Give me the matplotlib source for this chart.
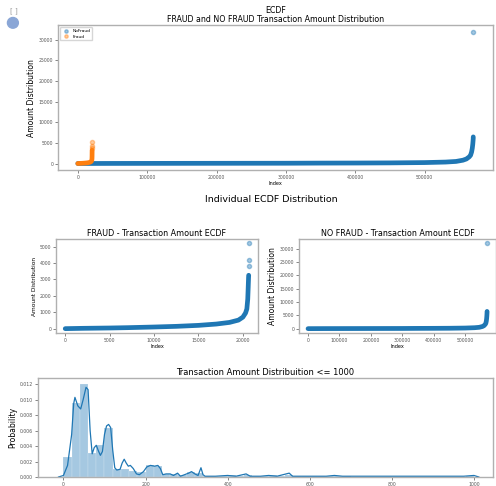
import matplotlib.pyplot as plt
from matplotlib.patches import Circle
import numpy as np

# sorted amounts (ECDF style) - anchor points
nofraud_idx = [0, 50000, 100000, 200000, 300000, 350000, 400000, 450000, 500000,
               530000, 545000, 555000, 560000, 564000, 566000, 567500, 568500,
               569200, 569600, 569850, 569875]
nofraud_amt = [0.25, 20, 30, 50, 68, 100, 117, 150, 226,
               350, 500, 800, 1100, 1600, 2000, 2800, 3700,
               4700, 5500, 6100, 6450]
nofraud_out_idx = [569876]
nofraud_out_amt = [31937]

fraud_idx = [0, 2000, 5000, 7000, 10000, 12500, 15000, 17000, 18500, 19500,
             20000, 20300, 20450, 20550, 20600, 20640, 20655]
fraud_amt = [0.3, 20, 40, 60, 100, 140, 200, 280, 380, 520,
             700, 950, 1200, 1800, 2500, 3100, 3250]
fraud_out_idx = [20660, 20661, 20662]
fraud_out_amt = [3800, 4200, 5191]

# histogram (density) of amounts <= 1000
bin_edges = [0, 20, 40, 60, 80, 100, 120, 140, 160, 180, 200, 220, 240, 260, 280,
             300, 320, 340, 360, 380, 400, 420, 440, 460, 480, 500, 520, 540, 560,
             580, 600, 620, 640, 660, 680, 700, 720, 740, 760, 780, 800, 820, 840,
             860, 880, 900, 920, 940, 960, 980, 1000]
bin_dens = [0.0026, 0.0096, 0.0120, 0.0031, 0.0042, 0.0063, 0.0010, 0.0010,
            0.0008, 0.0006, 0.0015, 0.0014, 0.0004, 0.0004, 0.0003, 0.0006,
            0.0005, 0.0001, 0.0001, 0.0001, 0.0002, 0.0001, 0.0002, 0.0001,
            0.0001, 0.0002, 0.0001, 0.0003, 0.0001, 0.0001, 0.0001, 0.0001,
            0.0001, 0.0001, 0.0001, 0.00005, 0.00005, 0.00005, 0.00005, 0.00005,
            0.00005, 0.00005, 0.00005, 0.00005, 0.00005, 0.00005, 0.00005,
            0.00005, 0.00005, 0.0001]

kde_x = [-12, 0, 10, 20, 25, 28, 35, 42, 48, 55, 60, 65, 70, 75, 80, 85, 90, 95,
         100, 105, 110, 115, 120, 125, 130, 138, 143, 148, 153, 158, 163, 170,
         178, 185, 195, 203, 212, 222, 230, 236, 242, 250, 260, 268, 278, 285,
         295, 305, 312, 320, 328, 335, 340, 345, 370, 400, 420, 445, 455, 480,
         500, 520, 550, 558, 600, 640, 660, 680, 740, 800, 840, 880, 940, 975,
         1000, 1012]
kde_y = [0, 0.0002, 0.0015, 0.0055, 0.0095, 0.0103, 0.0092, 0.0088, 0.0100,
         0.0116, 0.0113, 0.0060, 0.0030, 0.0038, 0.0041, 0.0034, 0.0028, 0.0033,
         0.0055, 0.0066, 0.0068, 0.0064, 0.0035, 0.0012, 0.0009, 0.0010, 0.0018,
         0.0023, 0.0018, 0.0014, 0.0015, 0.0011, 0.0004, 0.0003, 0.0007, 0.0013,
         0.0015, 0.0014, 0.0015, 0.0011, 0.0003, 0.0004, 0.0004, 0.0002, 0.0005,
         0.0001, 0.0003, 0.0005, 0.0007, 0.0004, 0.0002, 0.0012, 0.0003, 0.0001,
         0.0001, 0.0002, 0.0001, 0.0004, 0.0001, 0.0001, 0.0002, 0.0001, 0.0005,
         0.0001, 0.0001, 0.0001, 0.0002, 0.0001, 0.0001, 0.0001, 0.0001, 0.0001,
         0.0001, 0.0001, 0.0002, 0]

BLUE = '#1f77b4'
ORANGE = '#ff7f0e'
TICK = 3.3
SPINE = '#b0b0b0'


def style(ax):
    for s in ax.spines.values():
        s.set_color(SPINE)
        s.set_linewidth(1.0)
    ax.tick_params(labelsize=TICK, length=2, width=0.5, colors='#555555', pad=1.5)


def ecdf(ax, idx, amt, out_idx, out_amt, color, label=None):
    # the dense run of sorted points shows up as a thick band
    ax.plot(idx, amt, color=color, lw=3.4, solid_capstyle='round', zorder=2)
    ax.scatter(out_idx, out_amt, s=9, color=color, alpha=0.4, zorder=2, label=label)


fig = plt.figure(figsize=(4.96, 4.86), dpi=100)

# notebook cell decorations
fig.text(0.02, 0.978, '[ ]', fontsize=5, color='#999999', va='center')
fig.add_artist(Circle((0.026, 0.953), 0.011, transform=fig.transFigure,
                      color='#8aa6d6'))

# top: both classes together
ax1 = fig.add_axes([0.117, 0.650, 0.877, 0.2984])
ecdf(ax1, nofraud_idx, nofraud_amt, nofraud_out_idx, nofraud_out_amt, BLUE, 'NoFraud')
ecdf(ax1, fraud_idx, fraud_amt, fraud_out_idx, fraud_out_amt, ORANGE, 'Fraud')
ax1.set_title('ECDF\nFRAUD and NO FRAUD Transaction Amount Distribution',
              fontsize=5.7, pad=2, linespacing=1.0)
ax1.set_ylabel('Amount Distribution', fontsize=5.5, labelpad=2)
ax1.set_xlabel('Index', fontsize=3.6, labelpad=1)
ax1.legend(loc='upper left', fontsize=3.2, frameon=True, markerscale=0.8,
           handletextpad=0.3, borderpad=0.4, labelspacing=0.3)
style(ax1)

fig.text(0.546, 0.59, 'Individual ECDF Distribution', fontsize=6.8, ha='center',
         va='center')

# middle left: fraud only
ax2 = fig.add_axes([0.113, 0.315, 0.407, 0.193])
ecdf(ax2, fraud_idx, fraud_amt, fraud_out_idx, fraud_out_amt, BLUE)
ax2.set_title('FRAUD - Transaction Amount ECDF', fontsize=5.8, pad=2)
ax2.set_ylabel('Amount Distribution', fontsize=4.2, labelpad=2)
ax2.set_xlabel('Index', fontsize=3.6, labelpad=1)
style(ax2)

# middle right: no fraud only
ax3 = fig.add_axes([0.603, 0.315, 0.397, 0.193])
ecdf(ax3, nofraud_idx, nofraud_amt, nofraud_out_idx, nofraud_out_amt, BLUE)
ax3.set_title('NO FRAUD - Transaction Amount ECDF', fontsize=5.8, pad=2)
ax3.set_ylabel('Amount Distribution', fontsize=5.5, labelpad=2)
ax3.set_xlabel('Index', fontsize=3.6, labelpad=1)
style(ax3)

# bottom: distribution <= 1000
ax4 = fig.add_axes([0.0766, 0.0185, 0.917, 0.2037])
ax4.hist(bin_edges[:-1], bins=bin_edges, weights=bin_dens, color=BLUE, alpha=0.4,
         edgecolor='white', linewidth=0.3)
ax4.plot(kde_x, kde_y, color=BLUE, lw=0.9)
ax4.set_xlim(-62, 1046)
ax4.set_ylim(0, 0.0128)
ax4.set_yticks([0, 0.002, 0.004, 0.006, 0.008, 0.010, 0.012])
ax4.set_yticklabels(['0.000', '0.002', '0.004', '0.006', '0.008', '0.010', '0.012'])
ax4.set_title('Transaction Amount Distribuition <= 1000', fontsize=6, pad=2)
ax4.set_ylabel('Probability', fontsize=5.5, labelpad=2)
style(ax4)

plt.savefig('out.png', dpi=100)
